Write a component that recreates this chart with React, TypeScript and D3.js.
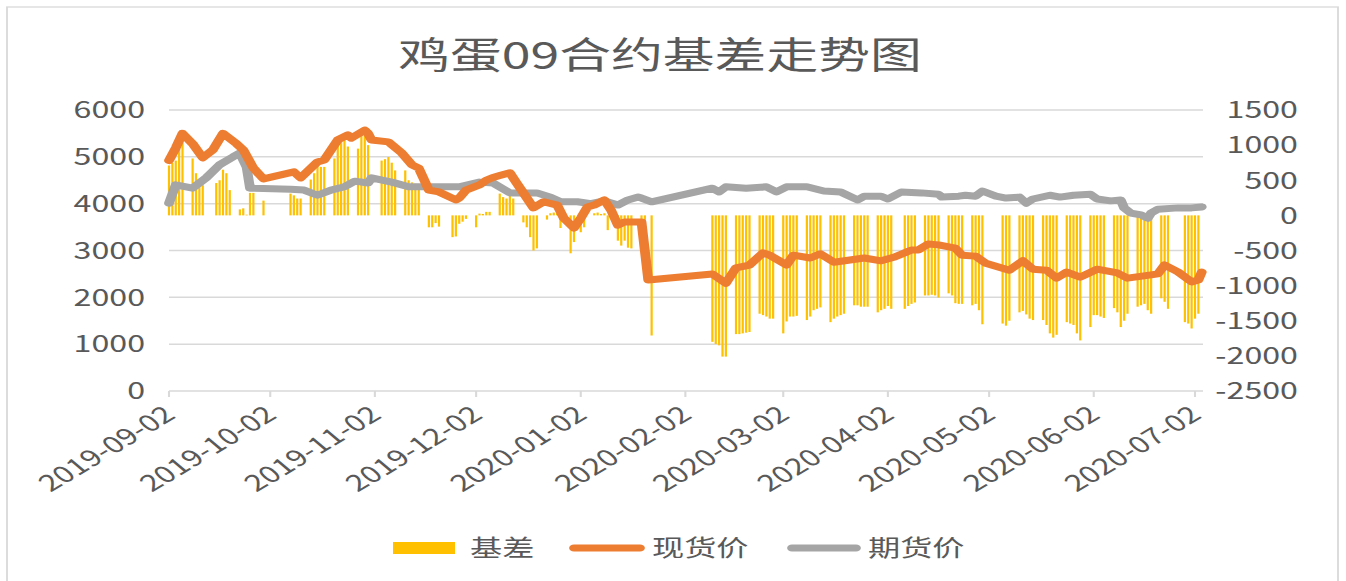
import * as d3 from "d3";

// the reference is drawn stretched sideways, so the svg is squeezed into a narrower viewBox
const S = 1.4;
const W = 1346;
const H = 581;
const VW = W / S;

const title = "鸡蛋09合约基差走势图";
const seriesNames = ["基差", "现货价", "期货价"];
const colors = ["#FFC000", "#ED7D31", "#A5A5A5"];

const monthTicks = [
  "2019-09-02", "2019-10-02", "2019-11-02", "2019-12-02", "2020-01-02", "2020-02-02",
  "2020-03-02", "2020-04-02", "2020-05-02", "2020-06-02", "2020-07-02",
];
const leftTicks = [0, 1000, 2000, 3000, 4000, 5000, 6000];
const rightTicks = [-2500, -2000, -1500, -1000, -500, 0, 500, 1000, 1500];

// 现货价
const spotDates = [
  "2019-09-02", "2019-09-04", "2019-09-06", "2019-09-09", "2019-09-12", "2019-09-15", "2019-09-18",
  "2019-09-22", "2019-09-24", "2019-09-27", "2019-09-30", "2019-10-09", "2019-10-11", "2019-10-16",
  "2019-10-18", "2019-10-22", "2019-10-25", "2019-10-26", "2019-10-30", "2019-10-31", "2019-11-01",
  "2019-11-06", "2019-11-10", "2019-11-13", "2019-11-15", "2019-11-18", "2019-11-21", "2019-11-26",
  "2019-11-27", "2019-11-29", "2019-12-03", "2019-12-05", "2019-12-07", "2019-12-09", "2019-12-12",
  "2019-12-14", "2019-12-16", "2019-12-19", "2019-12-22", "2019-12-26", "2019-12-28", "2019-12-31",
  "2020-01-02", "2020-01-04", "2020-01-06", "2020-01-09", "2020-01-11", "2020-01-13", "2020-01-15",
  "2020-01-20", "2020-01-22", "2020-02-10", "2020-02-14", "2020-02-17", "2020-02-21", "2020-02-25",
  "2020-02-27", "2020-03-03", "2020-03-05", "2020-03-10", "2020-03-13", "2020-03-17", "2020-03-26",
  "2020-03-31", "2020-04-04", "2020-04-09", "2020-04-11", "2020-04-14", "2020-04-17", "2020-04-22",
  "2020-04-24", "2020-04-28", "2020-05-01", "2020-05-08", "2020-05-12", "2020-05-15", "2020-05-19",
  "2020-05-22", "2020-05-25", "2020-05-29", "2020-06-03", "2020-06-09", "2020-06-12", "2020-06-19",
  "2020-06-21", "2020-06-23", "2020-06-27", "2020-07-01", "2020-07-03", "2020-07-04",
];
const spotValues = [
  4920, 5190, 5500, 5280, 4980, 5150, 5500,
  5280, 5150, 4760, 4530, 4680, 4550, 4890,
  4930, 5360, 5470, 5400, 5570, 5500, 5360,
  5320, 5080, 4830, 4760, 4290, 4250, 4080,
  4120, 4290, 4400, 4500, 4560, 4600, 4660,
  4440, 4230, 3910, 4040, 3970, 3690, 3480,
  3690, 3930, 3970, 4080, 3860, 3540, 3610,
  3610, 2370, 2500, 2300, 2630, 2690, 2950,
  2900, 2690, 2900, 2840, 2930, 2750, 2840,
  2780, 2860, 3010, 3010, 3140, 3120, 3050,
  2900, 2880, 2730, 2580, 2780, 2600, 2580,
  2410, 2540, 2430, 2600, 2520, 2410, 2480,
  2500, 2690, 2540, 2330, 2370, 2540,
];

// 期货价
const futDates = [
  "2019-09-02", "2019-09-04", "2019-09-09", "2019-09-13", "2019-09-17", "2019-09-21", "2019-09-23",
  "2019-09-25", "2019-09-26", "2019-10-08", "2019-10-12", "2019-10-16", "2019-10-20", "2019-10-24",
  "2019-10-27", "2019-10-31", "2019-11-01", "2019-11-07", "2019-11-12", "2019-11-19", "2019-11-27",
  "2019-12-03", "2019-12-07", "2019-12-12", "2019-12-18", "2019-12-20", "2019-12-24", "2019-12-27",
  "2020-01-01", "2020-01-05", "2020-01-09", "2020-01-13", "2020-01-16", "2020-01-19", "2020-01-20",
  "2020-01-23", "2020-02-10", "2020-02-12", "2020-02-14", "2020-02-20", "2020-02-26", "2020-02-29",
  "2020-03-03", "2020-03-09", "2020-03-14", "2020-03-19", "2020-03-24", "2020-03-26", "2020-03-31",
  "2020-04-02", "2020-04-06", "2020-04-12", "2020-04-17", "2020-04-18", "2020-04-23", "2020-04-25",
  "2020-04-28", "2020-04-30", "2020-05-04", "2020-05-07", "2020-05-11", "2020-05-13", "2020-05-15",
  "2020-05-20", "2020-05-23", "2020-05-27", "2020-06-01", "2020-06-03", "2020-06-07", "2020-06-10",
  "2020-06-11", "2020-06-13", "2020-06-16", "2020-06-18", "2020-06-19", "2020-06-21", "2020-06-27",
  "2020-07-01", "2020-07-04",
];
const futValues = [
  4010, 4400, 4330, 4550, 4830, 5000, 5080,
  4780, 4330, 4310, 4290, 4180, 4290, 4360,
  4480, 4440, 4550, 4460, 4360, 4360, 4360,
  4460, 4440, 4230, 4230, 4230, 4140, 4040,
  4040, 4000, 4060, 3970, 4080, 4140, 4120,
  4040, 4330, 4250, 4360, 4330, 4360, 4250,
  4360, 4360, 4270, 4250, 4080, 4160, 4160,
  4100, 4250, 4230, 4200, 4140, 4160, 4180,
  4160, 4270, 4160, 4120, 4140, 4010, 4100,
  4180, 4140, 4180, 4200, 4100, 4060, 4080,
  3910, 3800, 3760, 3690, 3800, 3880, 3910,
  3910, 3930,
];

// 基差 (one row per trading week)
const basisDates = [
  "2019-09-02", "2019-09-03", "2019-09-04", "2019-09-05", "2019-09-06",
  "2019-09-09", "2019-09-10", "2019-09-11", "2019-09-12",
  "2019-09-16", "2019-09-17", "2019-09-18", "2019-09-19", "2019-09-20",
  "2019-09-23", "2019-09-24", "2019-09-25", "2019-09-26", "2019-09-27",
  "2019-09-30",
  "2019-10-08", "2019-10-09", "2019-10-10", "2019-10-11",
  "2019-10-14", "2019-10-15", "2019-10-16", "2019-10-17", "2019-10-18",
  "2019-10-21", "2019-10-22", "2019-10-23", "2019-10-24", "2019-10-25",
  "2019-10-28", "2019-10-29", "2019-10-30", "2019-10-31",
  "2019-11-04", "2019-11-05", "2019-11-06", "2019-11-07", "2019-11-08",
  "2019-11-11", "2019-11-12", "2019-11-13", "2019-11-14", "2019-11-15",
  "2019-11-18", "2019-11-19", "2019-11-20", "2019-11-21",
  "2019-11-25", "2019-11-26", "2019-11-27", "2019-11-28", "2019-11-29",
  "2019-12-02", "2019-12-03", "2019-12-04", "2019-12-05", "2019-12-06",
  "2019-12-09", "2019-12-10", "2019-12-11", "2019-12-12", "2019-12-13",
  "2019-12-16", "2019-12-17", "2019-12-18", "2019-12-19", "2019-12-20",
  "2019-12-23", "2019-12-24", "2019-12-25", "2019-12-26", "2019-12-27",
  "2019-12-30", "2019-12-31", "2020-01-02", "2020-01-03",
  "2020-01-06", "2020-01-07", "2020-01-08", "2020-01-09", "2020-01-10",
  "2020-01-13", "2020-01-14", "2020-01-15", "2020-01-16", "2020-01-17",
  "2020-01-20", "2020-01-21", "2020-01-23",
  "2020-02-10", "2020-02-11", "2020-02-12", "2020-02-13", "2020-02-14",
  "2020-02-17", "2020-02-18", "2020-02-19", "2020-02-20", "2020-02-21",
  "2020-02-24", "2020-02-25", "2020-02-26", "2020-02-27", "2020-02-28",
  "2020-03-02", "2020-03-03", "2020-03-04", "2020-03-05", "2020-03-06",
  "2020-03-09", "2020-03-10", "2020-03-11", "2020-03-12", "2020-03-13",
  "2020-03-16", "2020-03-17", "2020-03-18", "2020-03-19", "2020-03-20",
  "2020-03-23", "2020-03-24", "2020-03-25", "2020-03-26", "2020-03-27",
  "2020-03-30", "2020-03-31", "2020-04-01", "2020-04-02", "2020-04-03",
  "2020-04-07", "2020-04-08", "2020-04-09", "2020-04-10",
  "2020-04-13", "2020-04-14", "2020-04-15", "2020-04-16", "2020-04-17",
  "2020-04-20", "2020-04-21", "2020-04-22", "2020-04-23", "2020-04-24",
  "2020-04-27", "2020-04-28", "2020-04-29", "2020-04-30",
  "2020-05-06", "2020-05-07", "2020-05-08",
  "2020-05-11", "2020-05-12", "2020-05-13", "2020-05-14", "2020-05-15",
  "2020-05-18", "2020-05-19", "2020-05-20", "2020-05-21", "2020-05-22",
  "2020-05-25", "2020-05-26", "2020-05-27", "2020-05-28", "2020-05-29",
  "2020-06-01", "2020-06-02", "2020-06-03", "2020-06-04", "2020-06-05",
  "2020-06-08", "2020-06-09", "2020-06-10", "2020-06-11", "2020-06-12",
  "2020-06-15", "2020-06-16", "2020-06-17", "2020-06-18", "2020-06-19",
  "2020-06-22", "2020-06-23", "2020-06-24",
  "2020-06-29", "2020-06-30", "2020-07-01", "2020-07-02", "2020-07-03",
];
const basisValues = [
  710, 750, 780, 950, 1040,
  810, 600, 400, 430,
  460, 500, 650, 600, 360,
  85, 100, 10, 320, 320,
  210,
  310, 285, 240, 240,
  510, 600, 740, 690, 690,
  810, 1040, 1070, 1140, 980,
  950, 1170, 1140, 1000,
  780, 800, 830, 750, 640,
  640, 500, 470, 450, 380,
  -170, -170, -110, -160,
  -310, -300, -120, -90, -50,
  -170, 25, 20, 50, 50,
  310, 260, 240, 310, 240,
  -100, -170, -310, -500, -470,
  -60, 30, 40, 30, -180,
  -540, -380, -240, -170,
  30, 40, 20, 30, -210,
  -360, -430, -360, -460, -470,
  -80, -70, -1710,
  -1800, -1830, -1850, -2010, -2010,
  -1690, -1690, -1680, -1670, -1660,
  -1400, -1420, -1440, -1470, -1470,
  -1680, -1510, -1440, -1440, -1430,
  -1490, -1440, -1350, -1330, -1310,
  -1520, -1470, -1440, -1420, -1400,
  -1280, -1280, -1300, -1300, -1300,
  -1380, -1350, -1330, -1290, -1330,
  -1330, -1290, -1260, -1240,
  -1140, -1140, -1130, -1140, -1170,
  -1110, -1140, -1250, -1260, -1260,
  -1280, -1260, -1350, -1550,
  -1540, -1570, -1500,
  -1380, -1360, -1410, -1470, -1490,
  -1490, -1560, -1680, -1740, -1700,
  -1520, -1540, -1560, -1680, -1780,
  -1590, -1420, -1420, -1440, -1460,
  -1320, -1380, -1590, -1500, -1400,
  -1300, -1280, -1260, -1350, -1400,
  -1180, -1230, -1330,
  -1520, -1540, -1610, -1470, -1400,
];

type Pt = { date: Date; v: number };

const parse = d3.utcParse("%Y-%m-%d");
const toPts = (dates: string[], vals: number[]): Pt[] =>
  dates.map((d, i) => ({ date: parse(d)!, v: vals[i] }));

export default function App() {
  const font = "'Noto Sans CJK SC', 'Noto Sans', sans-serif";
  const textColor = "#595959";
  const gridColor = "#D9D9D9";

  const x = d3
    .scaleUtc()
    .domain([parse("2019-09-02")!, parse("2020-07-02")!])
    .range([169 / S, 1195 / S]);
  const yL = d3.scaleLinear().domain([0, 6000]).range([391, 110]);
  const yR = d3.scaleLinear().domain([-2500, 1500]).range([391, 110]);

  const spot = toPts(spotDates, spotValues);
  const fut = toPts(futDates, futValues);
  const basis = toPts(basisDates, basisValues);

  const line = d3
    .line<Pt>()
    .x((d) => x(d.date))
    .y((d) => yL(d.v));

  const plotLeft = 169 / S;
  const plotRight = 1203 / S;
  const barW = 2.2 / S;
  const lineW = 7;

  return (
    <div style={{ position: "absolute", left: 0, top: 0, background: "#fff" }}>
      <svg
        width={W}
        height={H}
        viewBox={`0 0 ${VW} ${H}`}
        preserveAspectRatio="none"
        style={{ display: "block", fontFamily: font }}
      >
        <rect x={0} y={0} width={VW} height={H} fill="#fff" />
        <rect
          x={7 / S}
          y={7}
          width={(1338 - 7) / S}
          height={620}
          fill="none"
          stroke={gridColor}
          strokeWidth={1.3}
        />

        {/* title */}
        <text x={660 / S} y={69} textAnchor="middle" fontSize={37} fill={textColor}>
          {title}
        </text>

        {/* grid */}
        {leftTicks.map((t) => (
          <line
            key={t}
            x1={plotLeft}
            x2={plotRight}
            y1={yL(t)}
            y2={yL(t)}
            stroke={gridColor}
            strokeWidth={1.5}
          />
        ))}
        {monthTicks.map((t) => (
          <line
            key={t}
            x1={x(parse(t)!)}
            x2={x(parse(t)!)}
            y1={yL(0)}
            y2={yL(0) + 6}
            stroke={gridColor}
            strokeWidth={1.5}
          />
        ))}

        {/* left axis labels */}
        {leftTicks.map((t) => (
          <text
            key={t}
            x={145 / S}
            y={yL(t)}
            dy="0.36em"
            textAnchor="end"
            fontSize={23}
            fill={textColor}
          >
            {t}
          </text>
        ))}

        {/* right axis labels */}
        {rightTicks.map((t) => (
          <text
            key={t}
            x={1298 / S}
            y={yR(t)}
            dy="0.36em"
            textAnchor="end"
            fontSize={23}
            fill={textColor}
          >
            {t < 0 ? `-${Math.abs(t)}` : t}
          </text>
        ))}

        {/* x axis labels */}
        {monthTicks.map((t) => (
          <text
            key={t}
            transform={`translate(${x(parse(t)!) + 8 / S},${417}) rotate(-40)`}
            textAnchor="end"
            fontSize={23}
            fill={textColor}
          >
            {t}
          </text>
        ))}

        {/* basis bars */}
        {basis.map((d, i) => (
          <rect
            key={i}
            x={x(d.date) - barW / 2}
            y={Math.min(yR(0), yR(d.v))}
            width={barW}
            height={Math.abs(yR(d.v) - yR(0))}
            fill={colors[0]}
          />
        ))}

        {/* lines */}
        <path
          d={line(fut) ?? ""}
          fill="none"
          stroke={colors[2]}
          strokeWidth={lineW}
          strokeLinejoin="round"
          strokeLinecap="round"
        />
        <path
          d={line(spot) ?? ""}
          fill="none"
          stroke={colors[1]}
          strokeWidth={lineW}
          strokeLinejoin="round"
          strokeLinecap="round"
        />

        {/* legend */}
        <rect x={393 / S} y={542} width={62 / S} height={12} fill={colors[0]} />
        <text x={470 / S} y={556} fontSize={23} fill={textColor}>
          {seriesNames[0]}
        </text>
        <line
          x1={574 / S}
          x2={640 / S}
          y1={548}
          y2={548}
          stroke={colors[1]}
          strokeWidth={lineW}
          strokeLinecap="round"
        />
        <text x={652 / S} y={556} fontSize={23} fill={textColor}>
          {seriesNames[1]}
        </text>
        <line
          x1={792 / S}
          x2={856 / S}
          y1={548}
          y2={548}
          stroke={colors[2]}
          strokeWidth={lineW}
          strokeLinecap="round"
        />
        <text x={868 / S} y={556} fontSize={23} fill={textColor}>
          {seriesNames[2]}
        </text>
      </svg>
    </div>
  );
}
